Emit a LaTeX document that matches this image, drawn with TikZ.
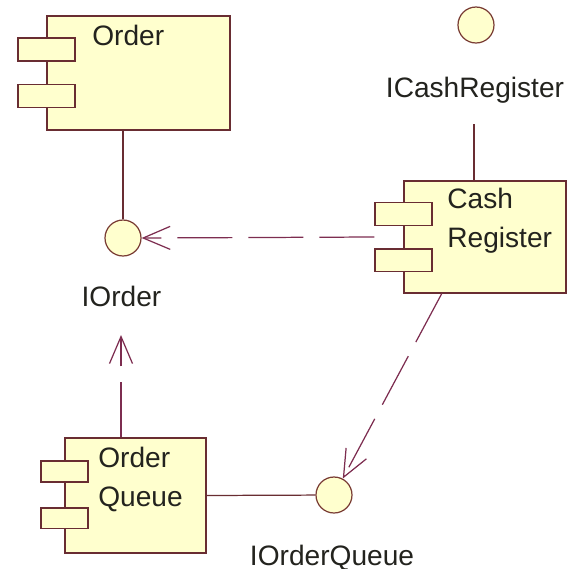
\documentclass[tikz,border=0pt]{standalone}
\usepackage{fontspec}
\setmainfont{Liberation Sans}
\usetikzlibrary{arrows.meta, positioning, calc}

\definecolor{compFill}{RGB}{255,255,206}
\definecolor{compLine}{RGB}{105,45,50}
\definecolor{depLine}{RGB}{125,45,80}
\definecolor{txtCol}{RGB}{35,35,30}

\begin{document}
\begin{tikzpicture}[
  x=0.02cm, y=-0.02cm,
  font=\fontsize{16}{19}\selectfont, text=txtCol,
  component/.style={rectangle, draw=compLine, fill=compFill,
    line width=0.7pt, inner sep=0pt},
  port/.style={rectangle, draw=compLine, fill=compFill,
    line width=0.7pt, inner sep=0pt, minimum width=1.14cm, minimum height=0.46cm},
  iface/.style={circle, draw=compLine!80!brown, fill=compFill,
    line width=0.7pt, inner sep=0pt, minimum size=0.72cm},
  caption/.style={inner sep=0pt, anchor=base west},
  ifacelabel/.style={inner sep=0pt, anchor=base},
  link/.style={draw=compLine, line width=0.7pt},
  depend/.style={draw=depLine, line width=0.7pt,
    dash pattern=on 1.1cm off 0.32cm,
    -{Straight Barb[length=0.54cm, width=0.46cm, line width=0.7pt]}}
]
  \useasboundingbox (0,0) rectangle (568,569);

  % components
  \node[component, minimum width=3.66cm, minimum height=2.28cm] (order) at (138.5,73) {};
  \node[port] (orderPortA) at ([yshift=-0.68cm]order.north west) {};
  \node[port] (orderPortB) at ([yshift=-1.61cm]order.north west) {};
  \node[caption] (orderText) at (92,45) {Order};

  \node[component, minimum width=3.24cm, minimum height=2.24cm] (cash) at (485,237) {};
  \node[port] (cashPortA) at ([yshift=-0.67cm]cash.north west) {};
  \node[port] (cashPortB) at ([yshift=-1.60cm]cash.north west) {};
  \node[caption] (cashText) at (447,208) {Cash};
  \node[caption] (cashText2) at (447,247) {Register};

  \node[component, minimum width=2.82cm, minimum height=2.30cm] (queue) at (135.5,495.5) {};
  \node[port, minimum width=0.94cm, minimum height=0.42cm] (queuePortA) at ([yshift=-0.68cm]queue.north west) {};
  \node[port, minimum width=0.94cm, minimum height=0.42cm] (queuePortB) at ([yshift=-1.62cm]queue.north west) {};
  \node[caption] (queueText) at (98,467) {Order};
  \node[caption] (queueText2) at (98,506) {Queue};

  % interfaces
  \node[iface] (icash) at (476,25) {};
  \node[ifacelabel] (icashLabel) at (475,97) {ICashRegister};
  \node[iface] (iorder) at (123,238) {};
  \node[ifacelabel] (iorderLabel) at (121.5,306) {IOrder};
  \node[iface] (iqueue) at (334,495) {};
  \node[ifacelabel] (iqueueLabel) at (332,565) {IOrderQueue};

  \coordinate (icashEnd) at (474,124);
  \coordinate (iorderTip) at (121,335);
  \coordinate (cashOut) at ($(cash.south west)!0.235!(cash.south east)$);

  % realizations
  \draw[link] (order.south -| iorder) -- (iorder);
  \draw[link] (icashEnd) -- (cash.north -| icashEnd);
  \draw[link] (queue.east) -- (iqueue);

  % dependencies
  \draw[depend] (cashPortA.west |- cash.west) -- (iorder.east);
  \draw[depend] (cashOut) -- (iqueue);
  \draw[depend] (queue.north -| iorderTip) -- (iorderTip);
\end{tikzpicture}
\end{document}
